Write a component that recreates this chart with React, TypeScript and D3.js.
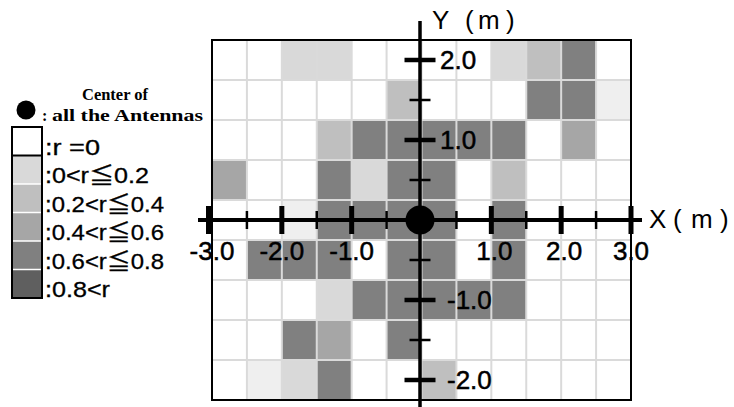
import React from "react";
import * as d3 from "d3";

// Cell grid: 12 columns (x from -3 to 3 m, 0.5 m wide) by 9 rows (y from 2.25 to -2.25 m, top to bottom).
// Values are correlation classes: 0 = r=0, 1..5 = legend classes, 0.5 = faint cell.
const xEdges = [-3, -2.5, -2, -1.5, -1, -0.5, 0, 0.5, 1, 1.5, 2, 2.5, 3];
const yEdges = [2.25, 1.75, 1.25, 0.75, 0.25, -0.25, -0.75, -1.25, -1.75, -2.25];
const cellRows: number[][] = [
  [0, 0, 1, 1, 0, 0, 0, 0, 1, 2, 4, 0],
  [0, 0, 0, 0, 0, 2, 0, 0, 0, 4, 4, 0.5],
  [0, 0, 0, 2, 4, 4, 4, 4, 4, 0, 3, 0],
  [3, 0, 0, 4, 1, 4, 4, 0, 2, 0, 0, 0],
  [0, 0, 0.5, 4, 4, 4, 4, 0, 4, 0, 0, 0],
  [0, 4, 4, 4, 0, 4, 4, 0, 4, 0, 0, 0],
  [0, 0, 0, 1, 4, 4, 4, 4, 4, 0, 0, 0],
  [0, 0, 4, 3, 0, 4, 0, 0, 0, 0, 0, 0],
  [0, 0.5, 1, 4, 0, 0, 2, 0, 0, 0, 0, 0],
];

const legendLabels = [":r =0", ":0<r≦0.2", ":0.2<r≦0.4", ":0.4<r≦0.6", ":0.6<r≦0.8", ":0.8<r"];
const legendClasses = [0, 1, 2, 3, 4, 5];
const legendLabelWidths = [55, 104, 119, 119, 119, 65];

const xMajorTicks = [-3, -2, -1, 1, 2, 3];
const xMinorTicks = [-2.5, -1.5, -0.5, 0.5, 1.5, 2.5];
const yMajorTicks = [2, 1, -1, -2];
const yMinorTicks = [1.5, 0.5, -0.5, -1.5];
const xTickLabels = ["-3.0", "-2.0", "-1.0", "1.0", "2.0", "3.0"];
const yTickLabels = ["2.0", "1.0", "-1.0", "-2.0"];

const shade: Record<string, string> = {
  "0": "#ffffff",
  "0.5": "#efefef",
  "1": "#d9d9d9",
  "2": "#bfbfbf",
  "3": "#a6a6a6",
  "4": "#808080",
  "5": "#5f5f5f",
};

const W = 734;
const H = 407;

export default function App() {
  const x = d3.scaleLinear().domain([-3, 3]).range([212, 631]);
  const y = d3.scaleLinear().domain([-2.25, 2.25]).range([400, 40]);

  const cells: { x0: number; x1: number; y0: number; y1: number; v: number }[] = [];
  cellRows.forEach((row, ri) =>
    row.forEach((v, ci) =>
      cells.push({ x0: xEdges[ci], x1: xEdges[ci + 1], y0: yEdges[ri], y1: yEdges[ri + 1], v })
    )
  );

  const sans = "'Liberation Sans', Arial, 'Noto Sans CJK JP', sans-serif";
  const serif = "'Liberation Serif', 'Times New Roman', serif";

  const legX = 12;
  const legW = 30;
  const legTop = 127;
  const legH = 28.5;

  return (
    <svg
      width={W}
      height={H}
      viewBox={`0 0 ${W} ${H}`}
      style={{ position: "absolute", left: 0, top: 0, background: "#fff" }}
    >
      {/* cells */}
      <g>
        {cells.map((c, i) => (
          <rect
            key={i}
            x={x(c.x0)}
            y={y(c.y0)}
            width={x(c.x1) - x(c.x0)}
            height={y(c.y1) - y(c.y0)}
            fill={shade[String(c.v)]}
          />
        ))}
      </g>
      {/* cell separators */}
      <g stroke="#dadada" strokeWidth={2}>
        {xEdges.slice(1, -1).map((e) => (
          <line key={"vx" + e} x1={x(e)} x2={x(e)} y1={y(2.25)} y2={y(-2.25)} />
        ))}
        {yEdges.slice(1, -1).map((e) => (
          <line key={"hy" + e} x1={x(-3)} x2={x(3)} y1={y(e)} y2={y(e)} />
        ))}
      </g>
      <rect
        x={x(-3)}
        y={y(2.25)}
        width={x(3) - x(-3)}
        height={y(-2.25) - y(2.25)}
        fill="none"
        stroke="#000"
        strokeWidth={2}
      />

      {/* axes */}
      <line x1={198} x2={642} y1={y(0)} y2={y(0)} stroke="#000" strokeWidth={4} />
      <line x1={x(0) - 1.5} x2={x(0) - 1.5} y1={21} y2={H} stroke="#000" strokeWidth={3.5} />
      <g stroke="#000">
        {xMajorTicks.map((t) => (
          <line key={"xM" + t} x1={x(t) - (t === -3 ? 3.5 : 0)} x2={x(t) - (t === -3 ? 3.5 : 0)} y1={y(0) - 14} y2={y(0) + 14} strokeWidth={5} />
        ))}
        {xMinorTicks.map((t) => (
          <line key={"xm" + t} x1={x(t)} x2={x(t)} y1={y(0) - 9} y2={y(0) + 9} strokeWidth={2.5} />
        ))}
        {yMajorTicks.map((t) => (
          <line key={"yM" + t} x1={x(0) - 17} x2={x(0) + 14} y1={y(t)} y2={y(t)} strokeWidth={4.5} />
        ))}
        {yMinorTicks.map((t) => (
          <line key={"ym" + t} x1={x(0) - 12} x2={x(0) + 9} y1={y(t)} y2={y(t)} strokeWidth={2.5} />
        ))}
      </g>
      <circle cx={x(0) - 1.5} cy={y(0)} r={14.5} fill="#000" />

      {/* tick labels */}
      <g fontFamily={sans} fontSize={26} fill="#000" stroke="#000" strokeWidth={0.5}>
        {xMajorTicks.map((t, i) => (
          <text key={"xl" + t} x={x(t) + (t > 0 && t < 3 ? 3 : 0)} y={260} textAnchor="middle">
            {xTickLabels[i]}
          </text>
        ))}
        {yMajorTicks.map((t, i) => (
          <text key={"yl" + t} x={t > 0 ? 440 : 447} y={y(t) + 9}>
            {yTickLabels[i]}
          </text>
        ))}
      </g>

      {/* axis titles, glyphs placed one by one */}
      <g fontFamily={sans} fontSize={26} fill="#000">
        <text x="649 673 691 720" y={228}>
          X(m)
        </text>
        <text x="432 465 478 506" y={29}>
          Y(m)
        </text>
      </g>

      {/* legend */}
      <circle cx={26} cy={110} r={9.5} fill="#000" />
      <g fontFamily={serif} fontWeight="bold" fontSize={16} fill="#000">
        <text x={82} y={100} textLength={66} lengthAdjust="spacingAndGlyphs">
          Center of
        </text>
        <text x={42} y={121}>:</text>
        <text x={52} y={121} textLength={151} lengthAdjust="spacingAndGlyphs">
          all the Antennas
        </text>
      </g>
      <g>
        {legendClasses.map((c, i) => (
          <rect
            key={"sw" + c}
            x={legX}
            y={legTop + i * legH}
            width={legW}
            height={legH}
            fill={shade[String(c)]}
          />
        ))}
        <g stroke="#fff" strokeWidth={1.5}>
          {legendClasses.slice(2).map((c, i) => (
            <line key={"sep" + c} x1={legX} x2={legX + legW} y1={legTop + (i + 2) * legH} y2={legTop + (i + 2) * legH} />
          ))}
        </g>
        <line x1={legX} x2={legX + legW} y1={legTop + legH} y2={legTop + legH} stroke="#000" strokeWidth={2} />
        <rect x={legX} y={legTop} width={legW} height={legH * 6} fill="none" stroke="#000" strokeWidth={2} />
      </g>
      <g fontFamily={sans} fontSize={22} fill="#000" stroke="#000" strokeWidth={0.3}>
        {legendLabels.map((l, i) => (
          <text
            key={"lg" + i}
            x={45}
            y={legTop + (i + 1) * legH - 1}
            textLength={legendLabelWidths[i]}
            lengthAdjust="spacingAndGlyphs"
          >
            {l}
          </text>
        ))}
      </g>
    </svg>
  );
}
